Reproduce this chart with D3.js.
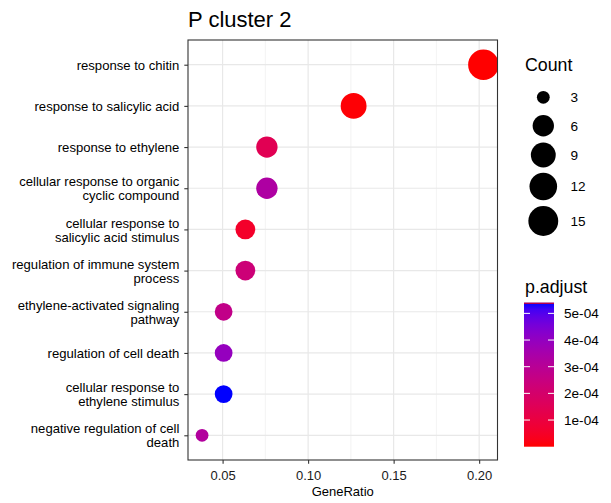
<!DOCTYPE html>
<html>
<head>
<meta charset="utf-8">
<script src="https://cdn.jsdelivr.net/npm/d3@7"></script>
<style>
  html, body { margin: 0; padding: 0; background: #fff; }
  svg { display: block; font-family: "Liberation Sans", Arial, Helvetica, sans-serif; }
</style>
</head>
<body>
<svg id="chart" width="611" height="503"></svg>
<script>
// GO enrichment terms (top to bottom), with wrapped labels
const terms = [
  "response to chitin",
  "response to salicylic acid",
  "response to ethylene",
  "cellular response to organic\ncyclic compound",
  "cellular response to\nsalicylic acid stimulus",
  "regulation of immune system\nprocess",
  "ethylene-activated signaling\npathway",
  "regulation of cell death",
  "cellular response to\nethylene stimulus",
  "negative regulation of cell\ndeath"
];
const geneRatio = [0.2025, 0.1266, 0.0759, 0.0759, 0.0633, 0.0633, 0.0506, 0.0506, 0.0506, 0.0380];
const counts = [16, 10, 6, 6, 5, 5, 4, 4, 4, 3];
const pAdjust = [1.0e-9, 4.0e-6, 1.45e-4, 3.3e-4, 5.5e-5, 2.3e-4, 2.7e-4, 3.95e-4, 5.4e-4, 3.2e-4];

const xTicks = [0.05, 0.10, 0.15, 0.20];
const xMinorTicks = [0.075, 0.125, 0.175];
const sizeBreaks = [3, 6, 9, 12, 15];
const colorBreaks = [1e-4, 2e-4, 3e-4, 4e-4, 5e-4];

const title = "P cluster 2";
const xTitle = "GeneRatio";

const rows = terms.map((t, i) => ({term: t, ratio: geneRatio[i], count: counts[i], p: pAdjust[i]}));

const svg = d3.select("#chart");
const panel = {left: 188, right: 497.5, top: 40, bottom: 460};

// x scale with 5% expansion on both sides
const ext = d3.extent(geneRatio);
const pad = (ext[1] - ext[0]) * 0.05;
const x = d3.scaleLinear().domain([ext[0] - pad, ext[1] + pad]).range([panel.left, panel.right]);
const y = d3.scalePoint().domain(terms).range([panel.top, panel.bottom]).padding(0.6);

// size: area-proportional between min and max count
const countNorm = d3.scaleLinear().domain(d3.extent(counts)).range([0, 1]);
const radiusFromNorm = d3.scaleSqrt().domain([0, 1]).range([6.4, 15.3]);
const radius = c => radiusFromNorm(Math.max(0, countNorm(c)));

// colour: red (low p.adjust) to blue (high), interpolated in Lab
const pExt = d3.extent(pAdjust);
const color = d3.scaleLinear().domain(pExt).range(["red", "blue"]).interpolate(d3.interpolateLab);

// panel background and grid
svg.append("rect").attr("x", panel.left).attr("y", panel.top)
  .attr("width", panel.right - panel.left).attr("height", panel.bottom - panel.top).attr("fill", "#fff");

const grid = svg.append("g");
grid.selectAll("line.minor").data(xMinorTicks).join("line")
  .attr("x1", d => x(d)).attr("x2", d => x(d)).attr("y1", panel.top).attr("y2", panel.bottom)
  .attr("stroke", "#ebebeb").attr("stroke-width", 0.6);
grid.selectAll("line.vmajor").data(xTicks).join("line")
  .attr("x1", d => x(d)).attr("x2", d => x(d)).attr("y1", panel.top).attr("y2", panel.bottom)
  .attr("stroke", "#e8e8e8").attr("stroke-width", 1.2);
grid.selectAll("line.hmajor").data(terms).join("line")
  .attr("x1", panel.left).attr("x2", panel.right).attr("y1", d => y(d)).attr("y2", d => y(d))
  .attr("stroke", "#e8e8e8").attr("stroke-width", 1.2);

// points
const clipId = "panel-clip";
svg.append("clipPath").attr("id", clipId).append("rect")
  .attr("x", panel.left).attr("y", panel.top)
  .attr("width", panel.right - panel.left).attr("height", panel.bottom - panel.top);
svg.append("g").attr("clip-path", `url(#${clipId})`)
  .selectAll("circle").data(rows).join("circle")
  .attr("cx", d => x(d.ratio)).attr("cy", d => y(d.term))
  .attr("r", d => radius(d.count)).attr("fill", d => color(d.p));

// panel border
svg.append("rect").attr("x", panel.left).attr("y", panel.top)
  .attr("width", panel.right - panel.left).attr("height", panel.bottom - panel.top)
  .attr("fill", "none").attr("stroke", "#333333").attr("stroke-width", 1.1);

// x axis
const xAxis = d3.axisBottom(x).tickValues(xTicks).tickFormat(d3.format(".2f")).tickSizeInner(3.7).tickSizeOuter(0);
const gx = svg.append("g").attr("transform", `translate(0,${panel.bottom})`).call(xAxis);
gx.select(".domain").remove();
gx.selectAll(".tick line").attr("stroke", "#333333").attr("stroke-width", 1.1);
gx.selectAll(".tick text").attr("fill", "#1a1a1a").attr("font-size", 13).attr("dy", null).attr("y", 20);

// y axis with wrapped labels
const yAxis = d3.axisLeft(y).tickSizeInner(3.7).tickSizeOuter(0).tickPadding(5);
const gy = svg.append("g").attr("transform", `translate(${panel.left},0)`).call(yAxis);
gy.select(".domain").remove();
gy.selectAll(".tick line").attr("stroke", "#333333").attr("stroke-width", 1.1);
gy.selectAll(".tick text").each(function(d) {
  const t = d3.select(this);
  const lines = d.split("\n");
  t.text(null).attr("fill", "#000").attr("font-size", 13.1).attr("dy", null).attr("x", -8.7);
  const lh = 14;
  const y0 = -((lines.length - 1) * lh) / 2 + 4.7;
  lines.forEach((ln, i) => {
    t.append("tspan").attr("x", -8.7).attr("y", y0 + i * lh).text(ln);
  });
});

// titles
svg.append("text").attr("x", panel.left).attr("y", 27).attr("font-size", 22).attr("fill", "#000").text(title);
svg.append("text").attr("x", (panel.left + panel.right) / 2).attr("y", 496).attr("text-anchor", "middle")
  .attr("font-size", 13).attr("fill", "#000").text(xTitle);

// size legend
const lgX = 525;
svg.append("text").attr("x", lgX).attr("y", 70.5).attr("font-size", 17.8).attr("fill", "#000").text("Count");
let yPos = 97.3, prevH = null;
sizeBreaks.forEach((b, i) => {
  const d = 2 * radius(b);
  const h = Math.max(28.5, d * 1.2);
  if (prevH !== null) yPos += (prevH + h) / 2;
  prevH = h;
  svg.append("circle").attr("cx", 543.3).attr("cy", yPos).attr("r", d / 2).attr("fill", "#000");
  svg.append("text").attr("x", 570.5).attr("y", yPos + 4.8).attr("font-size", 13.6).attr("fill", "#000").text(b);
});

// colour bar legend
svg.append("text").attr("x", lgX).attr("y", 292.7).attr("font-size", 17.8).attr("fill", "#000").text("p.adjust");
const bar = {x: 524, y: 302.7, w: 30, h: 144};
const cbar = d3.scaleLinear().domain(pExt).range([bar.y + bar.h, bar.y]);
const grad = svg.append("defs").append("linearGradient").attr("id", "pgrad")
  .attr("x1", 0).attr("y1", 1).attr("x2", 0).attr("y2", 0);
d3.range(0, 1.0001, 0.05).forEach(f => {
  grad.append("stop").attr("offset", f).attr("stop-color", color(pExt[0] + f * (pExt[1] - pExt[0])));
});
svg.append("rect").attr("x", bar.x).attr("y", bar.y).attr("width", bar.w).attr("height", bar.h).attr("fill", "url(#pgrad)");
svg.append("rect").attr("x", bar.x).attr("y", bar.y).attr("width", bar.w).attr("height", 1).attr("fill", "red");
colorBreaks.forEach(b => {
  const yy = cbar(b);
  svg.append("line").attr("x1", bar.x).attr("x2", bar.x + 6).attr("y1", yy).attr("y2", yy).attr("stroke", "#fff").attr("stroke-width", 1);
  svg.append("line").attr("x1", bar.x + bar.w - 6).attr("x2", bar.x + bar.w).attr("y1", yy).attr("y2", yy).attr("stroke", "#fff").attr("stroke-width", 1);
  svg.append("text").attr("x", 564).attr("y", yy + 4.8).attr("font-size", 13.6).attr("fill", "#000")
    .text(d3.format(".0e")(b).replace(/e-(\d)$/, "e-0$1"));
});
svg.selectAll("text").attr("font-family", "'Liberation Sans', Arial, Helvetica, sans-serif");
</script>
</body>
</html>
